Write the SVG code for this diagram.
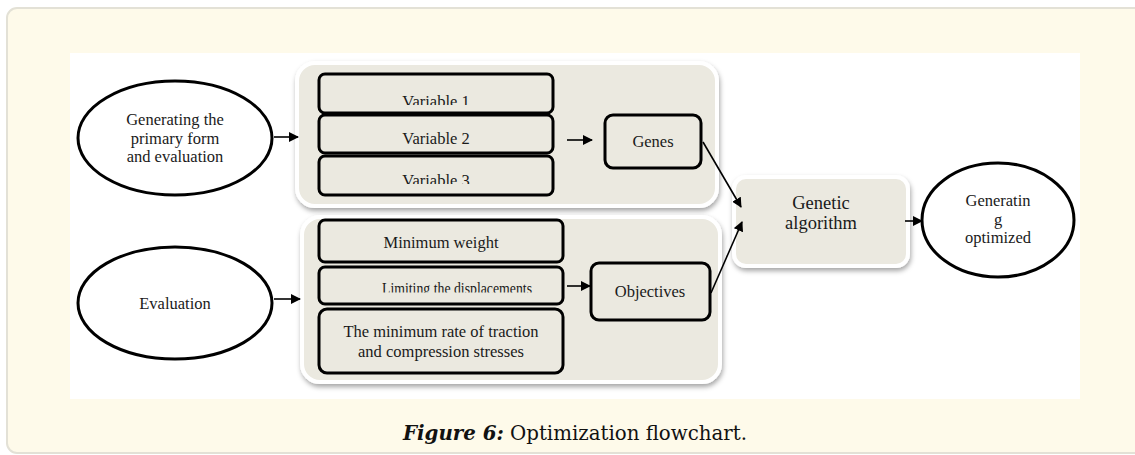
<svg xmlns="http://www.w3.org/2000/svg" width="1135" height="455" viewBox="0 0 1135 455">
<style>
.t{font-family:"Liberation Serif","Times New Roman",serif;font-size:16.5px;fill:#1a1a1a;text-anchor:middle}
.big{font-size:18.5px}
.grp{fill:#ebe9e0;stroke:#ffffff;stroke-width:4}
.box{fill:#ebe9e0;stroke:#000;stroke-width:3}
.ell{fill:#fff;stroke:#000;stroke-width:3}
.con{stroke:#000;stroke-width:1.6;fill:none}
.cap{font-family:"DejaVu Serif","Liberation Serif",serif;font-size:20px;fill:#111}
</style>
<defs>
<filter id="sh" x="-10%" y="-10%" width="120%" height="125%">
<feDropShadow dx="1" dy="3" stdDeviation="2.5" flood-color="#000" flood-opacity="0.35"/>
</filter>
<marker id="ah" viewBox="0 0 10 10" refX="9" refY="5" markerWidth="10" markerHeight="10" markerUnits="userSpaceOnUse" orient="auto">
<path d="M0,0 L10,5 L0,10 z" fill="#000"/>
</marker>
<clipPath id="c1"><rect x="310" y="70" width="250" height="35"/></clipPath>
<clipPath id="c3"><rect x="310" y="160" width="250" height="24"/></clipPath>
<clipPath id="c5"><rect x="310" y="270" width="260" height="22.5"/></clipPath>
</defs>

<rect x="7" y="8" width="1140" height="445" rx="10" fill="#fefaea" stroke="#e3e1d6" stroke-width="2"/>
<rect x="70" y="53" width="1010" height="346" fill="#ffffff"/>

<g id="group-variables">
<rect class="grp" x="297" y="63" width="420" height="143" rx="18" filter="url(#sh)"/>
</g>
<g id="group-objectives">
<rect class="grp" x="302" y="217" width="418" height="165" rx="18" filter="url(#sh)"/>
</g>

<g id="node-generating">
<ellipse class="ell" cx="175" cy="138" rx="97" ry="57"/>
<text class="t" x="175" y="125">Generating the</text>
<text class="t" x="175" y="143.5">primary form</text>
<text class="t" x="175" y="162">and evaluation</text>
</g>

<g id="node-evaluation">
<ellipse class="ell" cx="175" cy="303" rx="97" ry="56"/>
<text class="t" x="175" y="309">Evaluation</text>
</g>

<g id="node-var1">
<rect class="box" x="319" y="74" width="234" height="39" rx="6"/>
<text class="t" x="436" y="107" clip-path="url(#c1)">Variable 1</text>
</g>
<g id="node-var2">
<rect class="box" x="319" y="115" width="234" height="38" rx="6"/>
<text class="t" x="436" y="144">Variable 2</text>
</g>
<g id="node-var3">
<rect class="box" x="319" y="156" width="234" height="39" rx="6"/>
<text class="t" x="436" y="186" clip-path="url(#c3)">Variable 3</text>
</g>

<g id="node-genes">
<rect class="box" x="605" y="115" width="96" height="53" rx="8"/>
<text class="t" x="653" y="147">Genes</text>
</g>

<g id="node-minweight">
<rect class="box" x="319" y="220" width="244" height="42" rx="6"/>
<text class="t" x="441" y="248">Minimum weight</text>
</g>
<g id="node-limiting">
<rect class="box" x="319" y="267" width="244" height="37" rx="6"/>
<text class="t" x="457" y="294" clip-path="url(#c5)" textLength="150" lengthAdjust="spacingAndGlyphs">Limiting the displacements</text>
</g>
<g id="node-minrate">
<rect class="box" x="319" y="309" width="244" height="64" rx="8"/>
<text class="t" x="441" y="337">The minimum rate of traction</text>
<text class="t" x="441" y="357">and compression stresses</text>
</g>

<g id="node-objectives">
<rect class="box" x="591" y="263" width="119" height="57" rx="8"/>
<text class="t" x="650" y="297">Objectives</text>
</g>

<g id="node-ga">
<rect class="grp" x="734" y="177" width="174" height="89" rx="12" filter="url(#sh)"/>
<text class="t big" x="821" y="209">Genetic</text>
<text class="t big" x="821" y="229">algorithm</text>
</g>

<g id="node-optimized">
<ellipse class="ell" cx="998" cy="220" rx="76" ry="57"/>
<text class="t" x="998" y="206">Generatin</text>
<text class="t" x="998" y="224.5">g</text>
<text class="t" x="998" y="243">optimized</text>
</g>

<g id="connectors">
<line class="con" x1="274" y1="137" x2="298" y2="137" marker-end="url(#ah)"/>
<line class="con" x1="274" y1="299" x2="300" y2="299" marker-end="url(#ah)"/>
<line class="con" x1="567" y1="140" x2="592" y2="140" marker-end="url(#ah)"/>
<line class="con" x1="567" y1="286" x2="590" y2="286" marker-end="url(#ah)"/>
<line class="con" x1="703" y1="142" x2="741" y2="207" marker-end="url(#ah)"/>
<line class="con" x1="711" y1="293" x2="742" y2="222" marker-end="url(#ah)"/>
<line class="con" x1="905" y1="221" x2="922" y2="221" marker-end="url(#ah)"/>
</g>

<text class="cap" x="403" y="440" textLength="344" lengthAdjust="spacingAndGlyphs"><tspan font-weight="bold" font-style="italic">Figure 6:</tspan> Optimization flowchart.</text>
</svg>
